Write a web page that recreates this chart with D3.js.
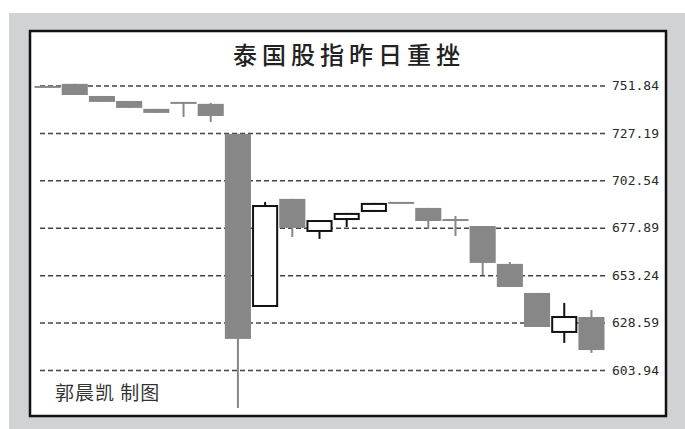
<!DOCTYPE html>
<html>
<head>
<meta charset="utf-8">
<script src="https://cdn.jsdelivr.net/npm/d3@7"></script>
<style>
  body { margin: 0; background: #fff; }
  svg { display: block; }
</style>
</head>
<body>
<div id="chart"></div>
<script>
// trading days (no labels shown on the chart)
var days = ["1","2","3","4","5","6","7","8","9","10","11","12","13","14","15","16","17","18","19","20","21"];
var openV  = [751.1, 752.7, 746.4, 743.8, 739.7, 742.8, 742.3, 726.7, 636.7, 692.9, 675.7, 681.9, 686.1, 690.8, 688.2, 681.9, 678.8, 659.1, 644.0, 623.2, 631.5];
var highV  = [751.1, 752.7, 746.4, 743.8, 739.7, 742.8, 742.8, 726.7, 691.3, 692.9, 681.9, 685.6, 690.8, 690.8, 688.2, 684.0, 678.8, 660.1, 644.0, 638.8, 635.1];
var lowV   = [751.1, 746.9, 743.3, 740.2, 737.6, 735.5, 732.9, 584.2, 636.7, 673.1, 672.1, 678.3, 686.1, 690.8, 677.3, 673.6, 653.3, 647.1, 626.3, 618.0, 612.8];
var closeV = [751.1, 746.9, 743.3, 740.2, 737.6, 742.8, 736.0, 620.1, 689.7, 677.8, 681.9, 685.6, 690.8, 690.8, 681.4, 681.9, 659.6, 647.1, 626.3, 632.0, 614.3];
var tickVals = [603.94, 628.59, 653.24, 677.89, 702.54, 727.19, 751.84];

var title = "泰国股指昨日重挫";
var credit = "郭晨凯 制图";

var W = 685, H = 429;
var data = days.map(function(d, i){
  return {day: d, o: openV[i], h: highV[i], l: lowV[i], c: closeV[i]};
});

var svg = d3.select("#chart").append("svg")
  .attr("width", W).attr("height", H);

// gray frame + white panel
svg.append("rect").attr("x", 9).attr("y", 13).attr("width", W - 9).attr("height", H - 13)
  .attr("fill", "#d1d2d4");
svg.append("rect").attr("x", 30).attr("y", 31).attr("width", 636).attr("height", 385)
  .attr("fill", "#fff").attr("stroke", "#111").attr("stroke-width", 2.5);

var x = d3.scaleBand().domain(days).range([34.5, 604.5]).paddingInner(0.04);
var y = d3.scaleLinear().domain([603.94, 751.84]).range([370, 85.5]);

// grid + right labels
var axis = svg.append("g")
  .attr("transform", "translate(605,0)")
  .call(d3.axisRight(y).tickValues(tickVals).tickFormat(d3.format(".2f"))
    .tickSizeInner(-568).tickSizeOuter(0).tickPadding(7));
axis.select(".domain").remove();
axis.selectAll("line")
  .attr("stroke", "#444").attr("stroke-width", 1.5).attr("stroke-dasharray", "5,3");
axis.selectAll("text")
  .attr("fill", "#2a2a2a")
  .style("font-family", "'DejaVu Sans Mono', monospace")
  .style("font-size", "13px");

var gray = "#878787";
var bw = x.bandwidth();

var candle = svg.append("g").selectAll("g").data(data).enter().append("g");

// wicks
candle.append("line")
  .attr("x1", function(d){ return x(d.day) + bw / 2; })
  .attr("x2", function(d){ return x(d.day) + bw / 2; })
  .attr("y1", function(d){ return y(d.h); })
  .attr("y2", function(d){ return y(d.l); })
  .attr("stroke", function(d){ return d.c > d.o ? "#111" : gray; })
  .attr("stroke-width", 2);

// bodies
candle.each(function(d){
  var g = d3.select(this);
  if (Math.abs(d.c - d.o) < 0.3) {
    g.append("line")
      .attr("x1", x(d.day)).attr("x2", x(d.day) + bw)
      .attr("y1", y(d.c)).attr("y2", y(d.c))
      .attr("stroke", gray).attr("stroke-width", 2);
  } else if (d.c > d.o) {
    g.append("rect")
      .attr("x", x(d.day) + 1).attr("width", bw - 2)
      .attr("y", y(d.c) + 1).attr("height", y(d.o) - y(d.c) - 2)
      .attr("fill", "#fff").attr("stroke", "#111").attr("stroke-width", 2);
  } else {
    g.append("rect")
      .attr("x", x(d.day)).attr("width", bw)
      .attr("y", y(d.o)).attr("height", y(d.c) - y(d.o))
      .attr("fill", gray);
  }
});

svg.append("text")
  .attr("x", 349).attr("y", 64)
  .attr("text-anchor", "middle")
  .attr("fill", "#222")
  .style("font-family", "'Noto Sans CJK SC', sans-serif")
  .style("font-size", "24px")
  .style("font-weight", 500)
  .style("letter-spacing", "5px")
  .text(title);

svg.append("text")
  .attr("x", 55).attr("y", 400)
  .attr("fill", "#333")
  .style("font-family", "'Noto Sans CJK SC', sans-serif")
  .style("font-size", "19px")
  .style("letter-spacing", "1px")
  .text(credit);
</script>
</body>
</html>
